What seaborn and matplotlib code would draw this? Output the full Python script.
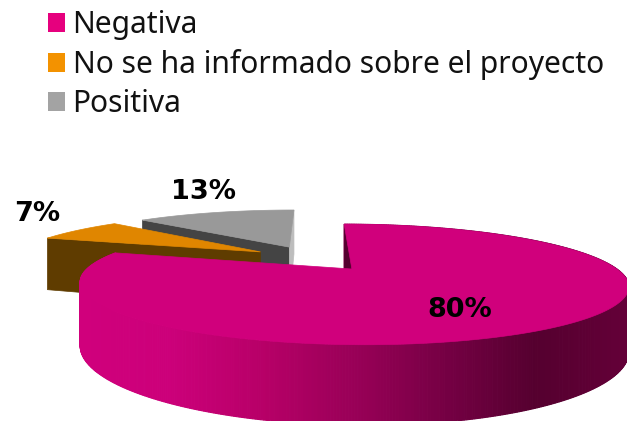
import numpy as np
import matplotlib
matplotlib.use('Agg')
import matplotlib.pyplot as plt
from matplotlib.patches import Patch
import seaborn as sns

categories = ['Negativa', 'No se ha informado sobre el proyecto', 'Positiva']
shares = [80, 7, 13]

legend_colors = ['#e6007e', '#f39200', '#a3a3a3']
top_colors = ['#d0007c', '#e08600', '#999999']
radial_colors = ['#55002f', '#5f3c00', '#444444']

sns.set_theme(style='white')
plt.rcParams['font.family'] = ['Noto Sans', 'DejaVu Sans']

# perspective of the tilted pie, in pixels of the picture
EXPLODE = 0.25
CENTER = (-0.004, 0.202)
TILT = 0.256
VANISH_X, VANISH_Y = 314, 49
SCALE_X, SCALE_Y = 265, 220
DEPTH = 60


def project(x, y, down=0.0):
    w = 1 + TILT * y
    return VANISH_X + SCALE_X * x / w, VANISH_Y + (SCALE_Y + down) / w


fig = plt.figure(figsize=(6.27, 4.21), dpi=100)
ax = fig.add_axes([0, 0, 1, 1])
ax.set_xlim(0, 627)
ax.set_ylim(421, 0)
ax.axis('off')

# slices go clockwise from 12 o'clock
ends = 90 - 3.6 * np.cumsum(shares)
starts = np.r_[90, ends[:-1]]
side_colors = sns.blend_palette(['#d0007c', '#cc007a', '#b80068', '#9a0058',
                                 '#760044', '#55002f', '#640038'], 300)


def draw_slice(i):
    mid = np.radians((starts[i] + ends[i]) / 2)
    ox = CENTER[0] + EXPLODE * np.cos(mid)
    oy = CENTER[1] + EXPLODE * np.sin(mid)
    t = np.radians(np.linspace(starts[i], ends[i], 600))
    xs = ox + np.cos(t)
    ys = oy + np.sin(t)

    # outer wall, only the pink one shows it
    if i == 0:
        order = np.argsort(ys)[::-1]
        for j in order:
            if j == len(t) - 1:
                continue
            X0, Y0 = project(xs[j], ys[j])
            X1, Y1 = project(xs[j + 1], ys[j + 1])
            _, Y2 = project(xs[j + 1], ys[j + 1], DEPTH)
            _, Y3 = project(xs[j], ys[j], DEPTH)
            c = side_colors[int(np.clip((X0 - 78) / 549 * 299, 0, 299))]
            ax.fill([X0, X1, X1, X0], [Y0, Y1, Y2, Y3], color=c, lw=0.8)

    # walls along the cuts
    pts = [project(ox, oy), project(xs[0], ys[0]),
           project(xs[0], ys[0], DEPTH), project(ox, oy, DEPTH)]
    ax.fill(*zip(*pts), color=radial_colors[i], lw=0.5)
    if i == 2:
        pts = [project(ox, oy), project(xs[-1], ys[-1]),
               project(xs[-1], ys[-1], DEPTH), project(ox, oy, DEPTH)]
        ax.fill(*zip(*pts), color='#bdbdbd', lw=0.5)

    px, py = project(np.r_[ox, xs], np.r_[oy, ys])
    ax.fill(px, py, color=top_colors[i], lw=0.5)


for i in [2, 1, 0]:
    draw_slice(i)

label_pos = [(460, 310), (37, 214), (203, 192)]
for v, (lx, ly) in zip(shares, label_pos):
    ax.text(lx, ly, f'{v}%', ha='center', va='center', fontsize=19.5,
            fontweight='bold', family='DejaVu Sans', color='black')

handles = [Patch(facecolor=c, edgecolor='none') for c in legend_colors]
ax.legend(handles, categories, loc='upper left', bbox_to_anchor=(48 / 627, 1 - 10 / 421),
          frameon=False, fontsize=21.6, borderpad=0, borderaxespad=0,
          handlelength=0.55, handleheight=0.62, handletextpad=0.27,
          labelspacing=0.3, labelcolor='#111111')

fig.savefig('out.png', dpi=100)
